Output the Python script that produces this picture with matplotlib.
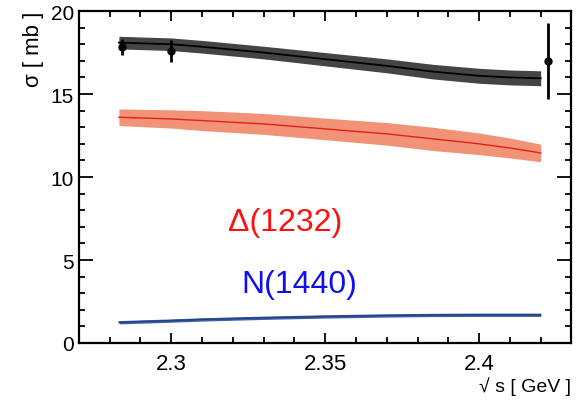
import matplotlib
matplotlib.use("Agg")
from matplotlib import pyplot as plt
from matplotlib.ticker import MultipleLocator

plt.rcParams['font.family'] = ['Liberation Sans', 'DejaVu Sans']

# total cross section model band
sqrt_s = [2.283, 2.30, 2.31, 2.33, 2.35, 2.37, 2.385, 2.40, 2.41, 2.42]
total_sigma = [18.1, 18.0, 17.85, 17.5, 17.1, 16.7, 16.35, 16.1, 16.0, 15.95]
total_err = [0.38, 0.38, 0.38, 0.38, 0.4, 0.42, 0.44, 0.45, 0.45, 0.45]

# Delta(1232) contribution
delta_sigma = [13.6, 13.5, 13.4, 13.2, 12.9, 12.6, 12.3, 12.0, 11.75, 11.45]
delta_err = [0.5, 0.55, 0.6, 0.63, 0.65, 0.68, 0.7, 0.65, 0.6, 0.53]

# N(1440) contribution
roper_sigma = [1.25, 1.35, 1.42, 1.52, 1.6, 1.66, 1.69, 1.70, 1.70, 1.70]
roper_err = [0.1] * 10

# measured points
data_x = [2.284, 2.30, 2.4223]
data_y = [17.85, 17.6, 17.0]
data_err = [0.48, 0.66, 2.27]

fig = plt.figure(figsize=(5.8, 4.02), dpi=100)
ax = fig.add_axes([0.136, 0.1443, 0.8493, 0.8257])

def band(x, y, e, fill, line, lw=1.0):
    lo = [a - b for a, b in zip(y, e)]
    hi = [a + b for a, b in zip(y, e)]
    ax.fill_between(x, lo, hi, color=fill, lw=0)
    ax.plot(x, y, color=line, lw=lw)

band(sqrt_s, total_sigma, total_err, '#444444', 'black', 1.3)
band(sqrt_s, delta_sigma, delta_err, '#f29277', '#e0201a')
band(sqrt_s, roper_sigma, roper_err, '#3b5ea6', '#22407f')

ax.errorbar(data_x, data_y, yerr=data_err, fmt='o', color='black',
            ms=5, elinewidth=2, capsize=0)

ax.text(2.337, 7.3, 'Δ(1232)', color='#ff1010', fontsize=23,
        ha='center', va='center')
ax.text(2.3415, 3.55, 'N(1440)', color='#1010ee', fontsize=23,
        ha='center', va='center')

ax.set_xlim(2.27, 2.43)
ax.set_ylim(0, 20)
ax.xaxis.set_minor_locator(MultipleLocator(0.01))
ax.yaxis.set_major_locator(MultipleLocator(5))
ax.yaxis.set_minor_locator(MultipleLocator(1))
ax.set_xticks([2.3, 2.35, 2.4])
ax.set_xticklabels(['2.3', '2.35', '2.4'])
ax.tick_params(which='both', direction='in', top=True, right=True,
               labelsize=15, width=1.3)
ax.tick_params(axis='x', labelsize=16, pad=7)
ax.tick_params(axis='y', which='major', length=10)
ax.tick_params(axis='x', which='major', length=7)
ax.tick_params(which='minor', length=4)
for s in ax.spines.values():
    s.set_linewidth(1.6)

ax.set_ylabel('σ [ mb ]', fontsize=16, loc='top', labelpad=5)
ax.set_xlabel('√ s [ GeV ]', fontsize=14, loc='right', labelpad=2)

fig.savefig('out.png', dpi=100)
